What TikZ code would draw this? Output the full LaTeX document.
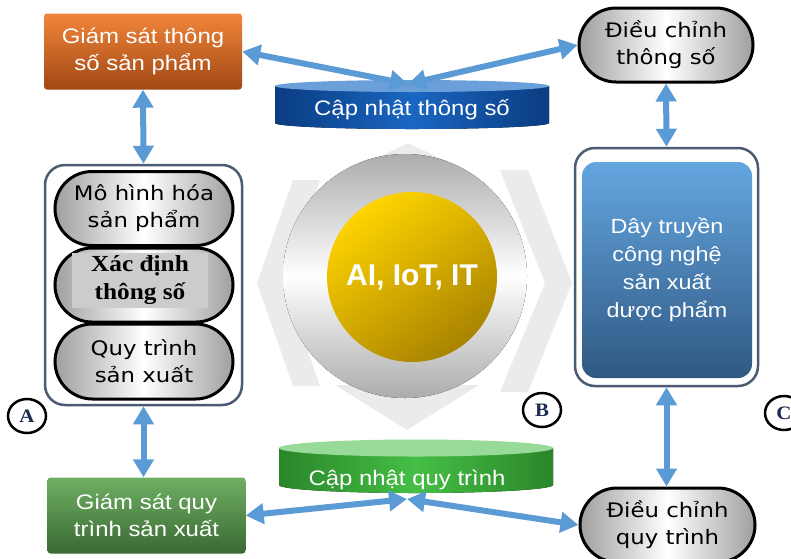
\documentclass[tikz,border=0pt]{standalone}
\usepackage{fontspec}
\setmainfont{Liberation Sans}[FakeStretch=1.14]
\newfontfamily\pillfont{DejaVu Sans}[FakeStretch=1.14]
\newfontfamily\seriffont{Liberation Serif}[FakeStretch=1.1]
\newfontfamily\hubfont{Liberation Sans}
\usetikzlibrary{arrows.meta,shapes.misc,shapes.geometric}

\definecolor{arrowblue}{HTML}{5B9BD5}
\definecolor{framegray}{HTML}{4B5B72}
\definecolor{orangetop}{HTML}{F2853A}
\definecolor{orangebot}{HTML}{A04814}
\definecolor{greentop}{HTML}{6FAF63}
\definecolor{greenbot}{HTML}{3A6A33}
\definecolor{linetop}{HTML}{64A6E0}
\definecolor{linebot}{HTML}{2F5882}
\definecolor{navydark}{HTML}{0A3C80}
\definecolor{navymid}{HTML}{1A66C2}
\definecolor{navytop}{HTML}{6A9FDA}
\definecolor{leafdark}{HTML}{2A862A}
\definecolor{leafmid}{HTML}{45BE45}
\definecolor{leaftop}{HTML}{98DA98}
\definecolor{yellowtop}{HTML}{FFD400}
\definecolor{yellowbot}{HTML}{A88300}
\definecolor{hubarrow}{HTML}{EBEBEB}
\definecolor{tagink}{HTML}{1C2C50}

\tikzset{
  link/.style={{Triangle[length=18pt,width=20pt]}-{Triangle[length=18pt,width=20pt]}, line width=6pt, arrowblue},
  monbox/.style={rectangle, rounded corners=3pt, minimum width=198pt, minimum height=76pt, align=center, text=white, font=\fontsize{21}{27}\selectfont},
  pill/.style={rounded rectangle, draw=black, line width=3pt, left color=gray!75, right color=gray!75, middle color=white, minimum height=74pt, inner sep=2pt, align=center, font=\pillfont\fontsize{20}{27}\selectfont},
  frame/.style={rectangle, draw=framegray, line width=2.5pt, rounded corners=20pt, fill=white},
  cyltext/.style={text=white, font=\fontsize{21}{27}\selectfont},
  tag/.style={ellipse, draw=black, line width=2.5pt, fill=white, minimum width=38pt, minimum height=34pt, inner sep=0pt, text=tagink, font=\seriffont\bfseries\fontsize{19}{19}\selectfont}
}

\begin{document}
\begin{tikzpicture}[x=1pt,y=-1pt]
    \useasboundingbox (0,0) rectangle (791,558);

    % Gray arrows around the hub
    \fill[hubarrow] (293,180) -- (257,283) -- (293,386) -- (320,386) -- (284,283) -- (320,180) -- cycle;
    \fill[hubarrow] (528,170) -- (572,283) -- (528,392) -- (500,392) -- (545,283) -- (500,170) -- cycle;
    \fill[hubarrow] (360,166) -- (408,143) -- (456,166) -- cycle;
    \fill[hubarrow] (335,385) -- (407,430) -- (479,385) -- cycle;

    % Hub
    \fill[top color=gray!65, bottom color=gray!65, middle color=white] (405,276) circle[radius=122pt];
    \node[circle, minimum size=170pt, top color=yellowtop, bottom color=yellowbot, shading angle=35, text=white, font=\hubfont\bfseries\fontsize{30}{30}\selectfont] (core) at (412,277) {AI, IoT, IT};

    % Update cylinders
    \fill[left color=navydark, right color=navydark, middle color=navymid] (275,86) -- (275,123) arc[start angle=180, end angle=360, x radius=137pt, y radius=6pt] -- (549,86) -- cycle;
    \fill[navytop] (412,86) ellipse[x radius=137pt, y radius=6pt];
    \node[cyltext] (paramupd) at (412,110) {Cập nhật thông số};
    \coordinate (paramtop) at (408,84);

    \fill[left color=leafdark, right color=leafdark, middle color=leafmid] (279,448) -- (279,485) arc[start angle=180, end angle=360, x radius=137pt, y radius=8pt] -- (553,448) -- cycle;
    \fill[leaftop] (416,448) ellipse[x radius=137pt, y radius=8.5pt];
    \node[cyltext] (procupd) at (407,480) {Cập nhật quy trình};
    \coordinate (procbot) at (407,499);

    % Monitoring boxes
    \node[monbox, top color=orangetop, bottom color=orangebot] (prodmon) at (143,51.5) {Giám sát thông\\số sản phẩm};
    \node[monbox, top color=greentop, bottom color=greenbot] (procmon) at (146.5,515.5) {Giám sát quy\\trình sản xuất};

    % Left block (A)
    \node[frame, minimum width=197pt, minimum height=240pt] (design) at (143.5,285) {};
    \node[pill, minimum width=182pt] (modeling) at (144,208.5) {Mô hình hóa\\sản phẩm};
    \node[pill, minimum width=182pt] (params) at (144,285) {};
    \node[fill=gray!40, minimum width=136pt, minimum height=55pt, inner sep=0pt, align=center, font=\seriffont\bfseries\fontsize{23}{28}\selectfont] (paramtext) at (140,280.5) {Xác định\\thông số};
    \node[pill, minimum width=182pt, minimum height=75pt] (process) at (144,361.5) {Quy trình\\sản xuất};

    % Right block (C)
    \node[frame, minimum width=183pt, minimum height=238pt] (line) at (666.5,267) {};
    \node[rectangle, rounded corners=14pt, minimum width=170pt, minimum height=216pt, top color=linetop, bottom color=linebot, align=center, text=white, font=\fontsize{20.5}{28}\selectfont] (linetext) at (667,270) {Dây truyền\\công nghệ\\sản xuất\\dược phẩm};

    % Adjustment pills
    \node[pill, minimum width=178pt] (paramadj) at (666,45) {Điều chỉnh\\thông số};
    \node[pill, minimum width=179pt] (procadj) at (667.5,525) {Điều chỉnh\\quy trình};

    % Tags
    \node[tag] (tagA) at (27,416) {A};
    \node[tag] (tagB) at (542,410) {B};
    \node[tag] (tagC) at (784,413) {C};

    % Connectors
    \draw[link] (prodmon.east) -- (paramtop);
    \draw[link] (paramtop) -- (paramadj.west);
    \draw[link] (prodmon.south) -- (design.north);
    \draw[link] (paramadj.south) -- (line.north);
    \draw[link] (design.south) -- (design.south |- procmon.north);
    \draw[link] (line.south) -- (line.south |- procadj.north);
    \draw[link] (procmon.east) -- (procbot);
    \draw[link] (procbot) -- (procadj.west);
\end{tikzpicture}
\end{document}
